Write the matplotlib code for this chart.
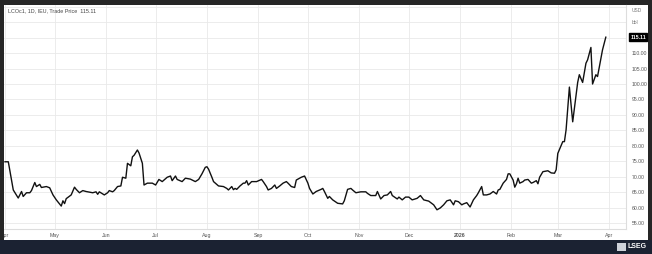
import numpy as np
import pandas as pd
import matplotlib
matplotlib.use("Agg")
import matplotlib.pyplot as plt
from matplotlib.patches import Rectangle

# Brent LCOc1 daily trade price
dates = [
    "2025-04-01", "2025-04-03", "2025-04-06", "2025-04-09", "2025-04-11", "2025-04-12",
    "2025-04-14", "2025-04-16", "2025-04-17", "2025-04-19", "2025-04-20", "2025-04-22",
    "2025-04-23", "2025-04-26", "2025-04-28", "2025-04-30", "2025-05-02", "2025-05-05",
    "2025-05-06", "2025-05-07", "2025-05-08", "2025-05-11", "2025-05-13", "2025-05-14",
    "2025-05-16", "2025-05-18", "2025-05-20", "2025-05-24", "2025-05-26", "2025-05-27",
    "2025-05-28", "2025-05-31", "2025-06-02", "2025-06-03", "2025-06-05", "2025-06-06",
    "2025-06-08", "2025-06-10", "2025-06-11", "2025-06-13", "2025-06-14", "2025-06-16",
    "2025-06-17", "2025-06-18", "2025-06-20", "2025-06-21", "2025-06-23", "2025-06-24",
    "2025-06-26", "2025-06-29", "2025-07-01", "2025-07-03", "2025-07-05", "2025-07-08",
    "2025-07-10", "2025-07-11", "2025-07-13", "2025-07-14", "2025-07-17", "2025-07-19",
    "2025-07-22", "2025-07-25", "2025-07-27", "2025-07-29", "2025-07-31", "2025-08-01",
    "2025-08-02", "2025-08-04", "2025-08-05", "2025-08-08", "2025-08-11", "2025-08-13",
    "2025-08-14", "2025-08-16", "2025-08-17", "2025-08-18", "2025-08-19", "2025-08-21",
    "2025-08-23", "2025-08-24", "2025-08-25", "2025-08-26", "2025-08-28", "2025-08-31",
    "2025-09-03", "2025-09-04", "2025-09-06", "2025-09-07", "2025-09-09", "2025-09-11",
    "2025-09-12", "2025-09-14", "2025-09-16", "2025-09-18", "2025-09-19", "2025-09-21",
    "2025-09-23", "2025-09-24", "2025-09-27", "2025-09-29", "2025-10-01", "2025-10-02",
    "2025-10-04", "2025-10-06", "2025-10-09", "2025-10-10", "2025-10-11", "2025-10-13",
    "2025-10-14", "2025-10-16", "2025-10-19", "2025-10-22", "2025-10-23", "2025-10-25",
    "2025-10-27", "2025-10-28", "2025-10-30", "2025-11-02", "2025-11-05", "2025-11-06",
    "2025-11-08", "2025-11-11", "2025-11-12", "2025-11-14", "2025-11-16", "2025-11-18",
    "2025-11-20", "2025-11-21", "2025-11-24", "2025-11-25", "2025-11-27", "2025-11-29",
    "2025-12-01", "2025-12-03", "2025-12-06", "2025-12-08", "2025-12-10", "2025-12-13",
    "2025-12-16", "2025-12-18", "2025-12-20", "2025-12-22", "2025-12-24", "2025-12-26",
    "2025-12-28", "2025-12-29", "2025-12-31", "2026-01-02", "2026-01-03", "2026-01-05",
    "2026-01-07", "2026-01-09", "2026-01-11", "2026-01-12", "2026-01-14", "2026-01-15",
    "2026-01-17", "2026-01-19", "2026-01-21", "2026-01-23", "2026-01-24", "2026-01-25",
    "2026-01-27", "2026-01-29", "2026-01-30", "2026-01-31", "2026-02-02", "2026-02-03",
    "2026-02-04", "2026-02-05", "2026-02-06", "2026-02-08", "2026-02-09", "2026-02-11",
    "2026-02-13", "2026-02-14", "2026-02-16", "2026-02-17", "2026-02-18", "2026-02-20",
    "2026-02-23", "2026-02-25", "2026-02-27", "2026-02-28", "2026-03-01", "2026-03-04",
    "2026-03-05", "2026-03-06", "2026-03-08", "2026-03-10", "2026-03-13", "2026-03-14",
    "2026-03-16", "2026-03-18", "2026-03-19", "2026-03-21", "2026-03-22", "2026-03-24",
    "2026-03-25", "2026-03-28", "2026-03-30",
]
prices = [
    74.9, 74.9, 65.8, 63.2, 65.3, 63.7,
    64.9, 64.9, 65.6, 68.2, 66.9, 67.6,
    66.6, 66.9, 66.5, 64.2, 62.6, 60.6,
    62.3, 61.4, 63.0, 64.2, 66.7, 66.0,
    64.9, 65.6, 65.3, 64.9, 65.2, 64.4,
    65.2, 64.2, 64.9, 65.6, 65.2, 65.6,
    66.9, 67.1, 69.9, 69.6, 74.4, 73.6,
    76.5, 77.0, 78.7, 77.7, 74.4, 67.4,
    68.0, 68.0, 67.4, 69.2, 68.5, 69.9,
    70.3, 68.8, 70.3, 69.2, 68.5, 69.6,
    69.3, 68.5, 69.2, 71.0, 73.1, 73.3,
    72.5, 69.9, 68.5, 67.1, 66.9, 66.3,
    65.8, 66.9, 65.9, 66.3, 66.0, 67.1,
    68.0, 68.0, 68.8, 67.4, 68.5, 68.5,
    69.2, 68.5, 66.9, 65.8, 66.3, 67.4,
    66.3, 67.1, 68.0, 68.5, 68.0, 66.9,
    66.6, 69.0, 69.9, 70.3, 68.0, 66.3,
    64.5, 65.3, 66.0, 66.3, 65.3, 63.1,
    63.7, 62.6, 61.5, 61.3, 62.3, 66.0,
    66.3, 65.8, 64.9, 65.2, 65.2, 64.7,
    64.0, 64.0, 65.3, 62.9, 64.0, 64.2,
    65.3, 64.0, 62.9, 63.5, 62.6, 63.5,
    63.5, 62.6, 63.1, 64.0, 62.6, 62.2,
    61.0, 59.4, 60.0, 61.0, 62.3, 62.6,
    61.0, 62.3, 62.0, 61.0, 61.3, 61.7,
    60.3, 62.6, 64.0, 64.9, 66.9, 64.2,
    64.2, 64.5, 65.3, 64.5, 65.8, 66.0,
    68.0, 69.2, 71.0, 71.0, 69.0, 66.7,
    67.8, 69.6, 68.0, 68.5, 69.0, 69.2,
    68.0, 68.2, 68.8, 67.8, 69.9, 71.7,
    72.0, 71.3, 71.2, 72.3, 77.6, 81.4,
    81.4, 85.2, 99.0, 87.8, 100.5, 103.0,
    100.5, 106.7, 107.8, 111.8, 100.0, 103.0,
    102.4, 111.0, 115.11,
]
month_ticks = ["2025-04-01", "2025-05-01", "2025-06-01", "2025-07-01", "2025-08-01",
               "2025-09-01", "2025-10-01", "2025-11-01", "2025-12-01", "2026-01-01",
               "2026-02-01", "2026-03-01", "2026-04-01"]
month_labels = ["Apr", "May", "Jun", "Jul", "Aug", "Sep", "Oct", "Nov", "Dec", "2026",
                "Feb", "Mar", "Apr"]
y_ticks = [55, 60, 65, 70, 75, 80, 85, 90, 95, 100, 105, 110]
last_price = 115.11

plt.rcParams["font.family"] = ["Liberation Sans", "DejaVu Sans"]

W, H = 652, 254
fig = plt.figure(figsize=(W / 100, H / 100), dpi=100, facecolor="#262626")

def fx(px):
    return px / W

def fy(py):
    return 1 - py / H

# white chart panel (behind the axes)
fig.patches.append(Rectangle((fx(4), fy(240)), fx(644), 235 / H, transform=fig.transFigure,
                             facecolor="white", edgecolor="none", zorder=-2))

ax = fig.add_axes([fx(4), fy(229), fx(622), 224 / H])
ax.set_facecolor("none")

d = pd.to_datetime(dates)
ax.plot(d, prices, color="#111111", lw=1.0)

x0 = pd.Timestamp("2025-04-01") - pd.Timedelta(days=0.6)
x1 = pd.Timestamp("2025-04-01") + pd.Timedelta(days=375.2)
ax.set_xlim(x0, x1)
ax.set_ylim(53.2, 125.5)

ax.set_xticks(pd.to_datetime(month_ticks))
ax.set_xticklabels(month_labels)
for lab in ax.get_xticklabels():
    if lab.get_text() == "2026":
        lab.set_fontweight("bold")
ax.tick_params(axis="x", length=0, pad=3, labelsize=3.8, labelcolor="#555555")

ax.yaxis.tick_right()
grid_vals = np.arange(55, 126, 5)
ax.set_yticks(grid_vals)
ax.set_yticklabels([f"{v:.2f}" if v in y_ticks else "" for v in grid_vals])
ax.tick_params(axis="y", length=0, pad=4, labelsize=3.7, labelcolor="#555555")

ax.grid(True, color="#e9e9e9", lw=0.6)
ax.set_axisbelow(True)
for s in ["top", "left"]:
    ax.spines[s].set_visible(False)
ax.spines["bottom"].set_color("#dddddd")
ax.spines["bottom"].set_linewidth(0.8)
ax.spines["right"].set_color("#dddddd")
ax.spines["right"].set_linewidth(0.8)

# last price tag
ax.annotate(f"{last_price:.2f}", xy=(1.0, last_price), xycoords=("axes fraction", "data"),
            xytext=(3.0, 0), textcoords="offset points", va="center", ha="left",
            fontsize=3.7, color="white", fontweight="bold",
            bbox=dict(boxstyle="square,pad=0.3", fc="black", ec="black"))

fig.text(fx(8), fy(11), "LCOc1, 1D, IEU, Trade Price  115.11", fontsize=3.9,
         color="#444444", va="center", ha="left")
fig.text(fx(632), fy(11), "USD", fontsize=3.5, color="#777777", va="center", ha="left")
fig.text(fx(632), fy(22), "bbl", fontsize=3.5, color="#777777", va="center", ha="left")

# left border strip covers clipped first label, bottom bar
fig.patches.append(Rectangle((0, 0), fx(4), 1, transform=fig.transFigure,
                             facecolor="#262626", edgecolor="none", zorder=5))
fig.patches.append(Rectangle((0, 0), 1, 14 / H, transform=fig.transFigure,
                             facecolor="#1b2232", edgecolor="none", zorder=5))

fig.text(fx(647), fy(247), "LSEG", fontsize=5, color="white", fontweight="bold",
         va="center", ha="right", zorder=6)
fig.patches.append(Rectangle((fx(617), fy(251)), fx(9), 8 / H, transform=fig.transFigure,
                             facecolor="#cfd3da", edgecolor="none", zorder=6))

fig.savefig("out.png", dpi=100, facecolor=fig.get_facecolor())
